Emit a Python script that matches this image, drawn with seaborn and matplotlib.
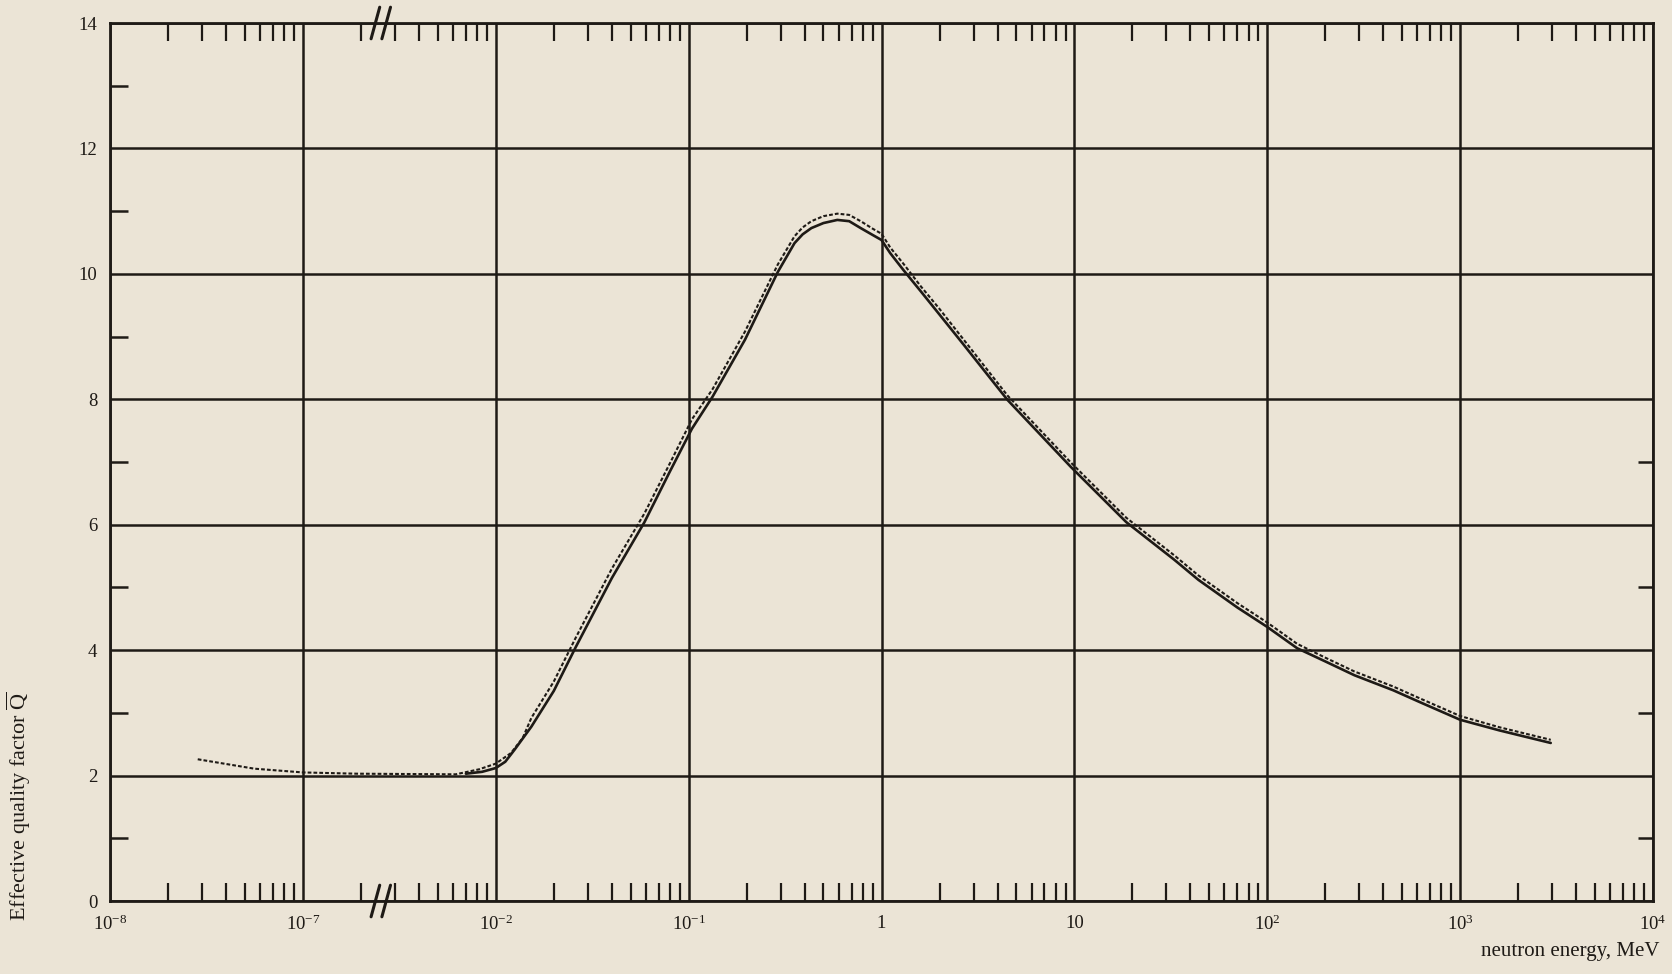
import numpy as np
import pandas as pd
import matplotlib
matplotlib.use("Agg")
import matplotlib.pyplot as plt
from matplotlib.lines import Line2D
import seaborn as sns

# ---------------- data ----------------
solid_E = [7e-3, 8.5e-3, 1e-2, 1.12e-2, 1.25e-2, 1.53e-2, 2e-2, 2.6e-2, 4e-2, 5.9e-2,
           0.08, 0.104, 0.133, 0.196, 0.29, 0.354, 0.39, 0.433, 0.5, 0.59, 0.68,
           0.78, 0.9, 1.0, 1.11, 1.3, 1.6, 2.0, 2.7, 4.5, 9.6, 18.6, 33.0, 44.0,
           70.0, 100.0, 143.0, 200.0, 283.0, 450.0, 630.0, 1000.0, 1600.0, 2950.0]
solid_Q = [2.03, 2.06, 2.12, 2.22, 2.41, 2.78, 3.35, 4.05, 5.15, 6.04,
           6.85, 7.53, 8.04, 8.95, 10.03, 10.49, 10.63, 10.73, 10.81, 10.86, 10.84,
           10.73, 10.62, 10.54, 10.33, 10.06, 9.72, 9.35, 8.85, 7.99, 6.92, 6.04, 5.44, 5.12,
           4.68, 4.37, 4.03, 3.82, 3.60, 3.36, 3.16, 2.89, 2.72, 2.52]

dotted_E = [2.85e-8, 5.6e-8, 1e-7, 1.9e-7, 6.2e-3, 8.2e-3, 1e-2, 1.2e-2, 1.38e-2,
            1.53e-2, 2e-2, 2.6e-2, 4e-2, 5.9e-2, 0.08, 0.104, 0.133, 0.196, 0.29,
            0.354, 0.39, 0.433, 0.5, 0.59, 0.68, 0.78, 0.9, 1.0, 1.11, 1.3, 1.6, 2.0,
            2.7, 4.5, 9.6, 18.6, 33.0, 44.0, 70.0, 100.0, 143.0, 200.0, 283.0, 450.0,
            630.0, 1000.0, 1600.0, 2950.0]
dotted_Q = [2.26, 2.11, 2.05, 2.03, 2.02, 2.10, 2.19, 2.36, 2.60,
            2.92, 3.50, 4.20, 5.30, 6.18, 6.98, 7.68, 8.16, 9.08, 10.15,
            10.60, 10.74, 10.84, 10.92, 10.96, 10.94, 10.84, 10.72, 10.64, 10.42, 10.16, 9.80, 9.44,
            8.93, 8.06, 6.99, 6.11, 5.51, 5.19, 4.75, 4.44, 4.10, 3.88, 3.66, 3.42,
            3.22, 2.95, 2.77, 2.57]

x_major = [1e-8, 1e-7, 1e-2, 1e-1, 1.0, 10.0, 1e2, 1e3, 1e4]
x_major_labels = [r"$10^{-8}$", r"$10^{-7}$", r"$10^{-2}$", r"$10^{-1}$", "1", "10",
                  r"$10^{2}$", r"$10^{3}$", r"$10^{4}$"]
y_major = [0, 2, 4, 6, 8, 10, 12, 14]
y_minor = [1, 3, 5, 7, 9, 11, 13]
y_minor_right = [1, 3, 5, 7]

# ---------------- style ----------------
PAPER = "#ebe4d6"
INK = "#1e1a16"
sns.set_theme(style="white")
plt.rcParams["font.family"] = ["Liberation Serif", "DejaVu Serif"]
plt.rcParams["mathtext.fontset"] = "custom"
plt.rcParams["mathtext.rm"] = "Liberation Serif"
plt.rcParams["mathtext.it"] = "Liberation Serif:italic"
plt.rcParams["mathtext.bf"] = "Liberation Serif:bold"

fig = plt.figure(figsize=(16.72, 9.74), dpi=100, facecolor=PAPER)
ax = fig.add_axes([110 / 1672, 1 - 901 / 974, 1543 / 1672, 878 / 974])
ax.set_facecolor(PAPER)

# broken log scale: 1e-8..1e-7 | break | 1e-2..1e4
BREAK_LO, BREAK_HI = -6.6, -2.6


def fwd(x):
    x = np.asarray(x, dtype=float)
    l = np.log10(np.clip(x, 1e-300, None))
    return np.where(l <= BREAK_LO, l + 8.0, np.where(l >= BREAK_HI, l + 4.0, 1.4))


def inv(u):
    u = np.asarray(u, dtype=float)
    return np.where(u <= 1.4, 10.0 ** (u - 8.0), 10.0 ** (u - 4.0))


ax.set_xscale("function", functions=(fwd, inv))

df_solid = pd.DataFrame({"E": solid_E, "Q": solid_Q})
df_dot = pd.DataFrame({"E": dotted_E, "Q": dotted_Q})
sns.lineplot(data=df_dot, x="E", y="Q", ax=ax, color=INK, lw=1.5,
             linestyle=(0, (1.8, 1.0)), sort=False, estimator=None, zorder=4)
sns.lineplot(data=df_solid, x="E", y="Q", ax=ax, color=INK, lw=1.9,
             sort=False, estimator=None, zorder=5)

ax.set_xlim(1e-8, 1e4)
ax.set_ylim(0, 14)

# ticks
ax.set_xticks(x_major)
ax.set_xticklabels(x_major_labels)
minor = []
for m in range(2, 10):
    minor.append(m * 1e-8)
minor.append(2e-7)
for m in range(3, 10):
    minor.append(m * 1e-3)
for d in range(-2, 4):
    for m in range(2, 10):
        minor.append(m * 10.0 ** d)
ax.set_xticks(minor, minor=True)
ax.set_yticks(y_major)
ax.set_yticklabels([str(v) for v in y_major])
ax.set_yticks(y_minor, minor=True)

ax.tick_params(axis="both", which="major", length=0, labelsize=13.5, colors=INK, pad=9)
ax.tick_params(axis="x", which="minor", direction="in", length=13, width=1.6,
               color=INK, top=True, bottom=True)
ax.tick_params(axis="y", which="minor", direction="in", length=13, width=1.8,
               color=INK, left=True, right=False)
ax.tick_params(axis="x", which="major", pad=10)

sec = ax.secondary_yaxis("right")
sec.set_yticks(y_minor_right)
sec.tick_params(direction="in", length=11, width=1.8, color=INK, labelright=False)
sec.spines["right"].set_visible(False)

ax.grid(True, which="major", color=INK, lw=1.8)
for s in ax.spines.values():
    s.set_color(INK)
    s.set_linewidth(2.0)

# axis-break marks
for yb in (0.0, 1.0):
    for xb in (0.172, 0.179):
        ax.add_line(Line2D([xb - 0.0028, xb + 0.0028], [yb - 0.018, yb + 0.018],
                           transform=ax.transAxes, color=INK, lw=2.2, clip_on=False,
                           zorder=6))

ax.set_xlabel("neutron energy, MeV", fontsize=15, color=INK, ha="right", va="top")
ax.xaxis.set_label_coords(1.004, -0.047)
ax.set_ylabel(r"Effective quality factor $\overline{\mathrm{Q}}$", fontsize=16,
              color=INK)
ax.yaxis.set_label_coords(-0.050, 0.108)

fig.savefig("out.png", dpi=100, facecolor=PAPER)
